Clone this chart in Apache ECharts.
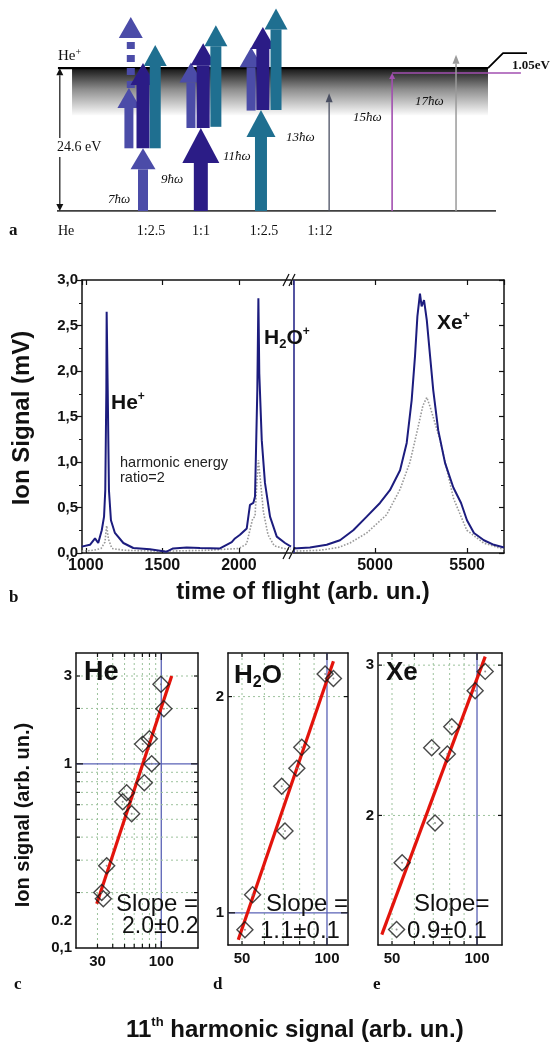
<!DOCTYPE html>
<html>
<head>
<meta charset="utf-8">
<script src="https://cdn.jsdelivr.net/npm/echarts@6/dist/echarts.min.js"></script>
<style>
html, body { margin: 0; background: #ffffff; }
#main { width: 554px; height: 1042px; }
</style>
</head>
<body>
<div id="main"></div>
<script>
// ---------- panel a : He level scheme (x = position in diagram, y = energy in eV) ----------
const arrowPos  = [18.3, 15.3, 15.7, 18.3, 20.9, 30.6, 28.5, 31.1, 33.8, 43.4, 41.3, 43.8, 46.6, 57.9, 71.3, 84.9, 0.6, 0.6];
const arrowFrom = [0, 10.8, 21.2, 10.8, 10.8, 0, 14.3, 14.3, 14.5, 0, 17.3, 17.4, 17.4, 0, 0, 0, 12.4, 9.3];
const arrowTo   = [10.8, 21.2, 33.4, 25.5, 28.6, 14.3, 25.6, 28.9, 32.0, 17.4, 28.2, 31.7, 34.9, 20.3, 23.75, 26.9, 24.6, 0];
const arrowKind = ['slateLow', 'slate', 'dash', 'navy', 'teal', 'navyBig', 'slate', 'navy', 'teal',
                   'tealBig', 'slate', 'navy', 'teal', 'dark', 'purple', 'gray', 'dim', 'dim'];
const ionE = 24.6;
const ionX = [0.2, 91.7];
const groundX = [0, 93.4];
const bandX = [3.2, 91.7];
const bandE = [16.5, 24.6];
const bracketX = [91.7, 94.9, 100];
const bracketE = [24.6, 27.2, 27.2];
const purpleX = [71.3, 98.7];
const purpleE = 23.75;

// ---------- panel b : time of flight spectrum ----------
const tofL  = [973, 1027, 1060, 1081, 1104, 1119, 1127, 1134, 1136, 1143, 1151, 1164, 1190, 1245, 1310, 1419, 1528, 1570, 1659, 1746,
               1876, 1953, 1974, 2007, 2051, 2072, 2094, 2105, 2120, 2127, 2133, 2149, 2170, 2203, 2247, 2301, 2340];
const blueL = [0.07, 0.09, 0.16, 0.11, 0.25, 0.40, 0.69, 1.79, 2.65, 1.79, 0.69, 0.36, 0.22, 0.11, 0.055, 0.04, 0.015, 0.05, 0.06, 0.055,
               0.05, 0.12, 0.16, 0.2, 0.27, 0.53, 0.55, 0.62, 1.79, 2.80, 1.97, 1.24, 0.77, 0.40, 0.18, 0.11, 0.07];
const tofGL  = [973, 1050, 1100, 1125, 1136, 1148, 1170, 1250, 1500, 1800, 2000, 2050, 2090, 2105, 2118, 2127, 2140, 2160, 2190, 2230, 2290, 2340];
const grayL  = [0.02, 0.03, 0.05, 0.12, 0.3, 0.15, 0.05, 0.03, 0.02, 0.03, 0.05, 0.1, 0.38, 0.4, 0.8, 1.02, 0.8, 0.45, 0.2, 0.08, 0.05, 0.04];
const tofR  = [4557, 4647, 4738, 4810, 4882, 4955, 5027, 5081, 5136, 5172, 5199, 5217, 5230, 5244, 5253, 5266, 5281, 5299, 5316, 5343,
               5380, 5425, 5467, 5499, 5537, 5591, 5645, 5700];
const blueR = [0.05, 0.06, 0.09, 0.14, 0.25, 0.40, 0.55, 0.69, 0.91, 1.21, 1.68, 2.16, 2.60, 2.85, 2.71, 2.78, 2.56, 2.16, 1.79, 1.35,
               0.99, 0.72, 0.55, 0.36, 0.22, 0.14, 0.09, 0.06];
const tofGR = [4557, 4700, 4800, 4864, 4955, 5063, 5136, 5190, 5230, 5260, 5281, 5300, 5353, 5426, 5498, 5589, 5700];
const grayR = [0.02, 0.03, 0.06, 0.11, 0.22, 0.42, 0.7, 1.0, 1.35, 1.62, 1.71, 1.6, 1.24, 0.6, 0.25, 0.11, 0.04];
const breakTof = 4560;

// ---------- panels c, d, e : ion signal vs 11th harmonic signal ----------
const heX = [99.4, 105, 70.4, 79.8, 83.4, 72.6, 52.0, 48.3, 57.2, 35.7, 32.5, 33.5];
const heY = [2.71, 1.99, 1.28, 1.37, 1.0, 0.789, 0.696, 0.622, 0.536, 0.280, 0.200, 0.185];
const heFitX = [29.6, 121.7];
const heFitY = [0.174, 3.0];
const h2oX = [98.5, 105.4, 81.4, 78.2, 69.1, 71.0, 54.5, 51.2];
const h2oY = [2.15, 2.12, 1.70, 1.59, 1.50, 1.30, 1.06, 0.947];
const h2oFitX = [48.5, 105.4];
const h2oFitY = [0.917, 2.24];
const xeX = [106.9, 98.5, 81.4, 69.1, 78.5, 71.0, 54.3, 51.9];
const xeY = [2.95, 2.80, 2.54, 2.40, 2.36, 1.96, 1.76, 1.47];
const xeFitX = [46.0, 106.9];
const xeFitY = [1.45, 3.07];

const heGridX = [30, 40, 50, 60, 70, 80, 90];
const heGridY = [0.2, 0.3, 0.4, 0.5, 0.6, 0.7, 0.8, 0.9, 2, 3];
const h2oGridX = [50, 60, 70, 80, 90];
const h2oGridY = [2];
const xeGridX = [50, 60, 70, 80, 90];
const xeGridY = [2, 3];
const refX = [100];
const refY = [1];

const heTickX = [30, 100];
const heTickXLab = ['30', '100'];
const heTickY = [3, 1, 0.1405, 0.1];
const heTickYLab = ['3', '1', '0.2', '0,1'];
const h2oTickX = [50, 100];
const h2oTickXLab = ['50', '100'];
const h2oTickY = [2, 1];
const h2oTickYLab = ['2', '1'];
const xeTickX = [50, 100];
const xeTickXLab = ['50', '100'];
const xeTickY = [3, 2];
const xeTickYLab = ['3', '2'];

const SANS = '"Liberation Sans", Arial, sans-serif';
const SERIF = '"Liberation Serif", "Times New Roman", serif';

const arrowStyle = {
  slateLow: { color: '#4b4ca8', shaft: 10, head: 25, headH: 21 },
  slate:    { color: '#4b4ca8', shaft: 9,  head: 23, headH: 20 },
  dash:     { color: '#4b4ca8', shaft: 8,  head: 24, headH: 21, dash: true },
  navy:     { color: '#2b1c86', shaft: 13, head: 25, headH: 22 },
  teal:     { color: '#1f6f90', shaft: 11, head: 23, headH: 21 },
  navyBig:  { color: '#2b1c86', shaft: 14, head: 37, headH: 35 },
  tealBig:  { color: '#1f6f90', shaft: 12, head: 29, headH: 27 },
  dark:     { color: '#4a4f62', line: 1.3, head: 7, headH: 9 },
  purple:   { color: '#a24fb0', line: 1.6, head: 6, headH: 6 },
  gray:     { color: '#9a9a9a', line: 1.5, head: 7, headH: 9 },
  dim:      { color: '#111111', line: 1.2, head: 7, headH: 7 }
};

function renderArrow(params, api) {
  const i = params.dataIndex;
  const s = arrowStyle[arrowKind[i]];
  const p0 = api.coord([arrowPos[i], arrowFrom[i]]);
  const p1 = api.coord([arrowPos[i], arrowTo[i]]);
  const x = p0[0];
  const dir = p1[1] < p0[1] ? -1 : 1;
  const yb = p1[1] - dir * s.headH;
  const head = { type: 'polygon', shape: { points: [[x - s.head / 2, yb], [x, p1[1]], [x + s.head / 2, yb]] }, style: { fill: s.color } };
  let shaft;
  if (s.line) {
    shaft = { type: 'line', shape: { x1: x, y1: p0[1], x2: x, y2: yb }, style: { stroke: s.color, lineWidth: s.line } };
  } else if (s.dash) {
    shaft = { type: 'line', shape: { x1: x, y1: p0[1], x2: x, y2: yb }, style: { stroke: s.color, lineWidth: s.shaft, lineDash: [7, 6] } };
  } else {
    shaft = { type: 'rect', shape: { x: x - s.shaft / 2, y: Math.min(p0[1], yb), width: s.shaft, height: Math.abs(yb - p0[1]) }, style: { fill: s.color } };
  }
  return { type: 'group', children: [shaft, head] };
}

function renderBand(params, api) {
  const p0 = api.coord([bandX[0], bandE[1]]);
  const p1 = api.coord([bandX[1], bandE[0]]);
  return {
    type: 'rect',
    shape: { x: p0[0], y: p0[1], width: p1[0] - p0[0], height: p1[1] - p0[1] },
    style: { fill: new echarts.graphic.LinearGradient(0, 0, 0, 1, [
      { offset: 0, color: '#151515' }, { offset: 0.45, color: '#8d8d8d' }, { offset: 1, color: '#fbfbfb' }]) }
  };
}

function levelLine(xs, es, color, width) {
  return {
    type: 'line', xAxisIndex: 0, yAxisIndex: 0, z: 2, symbol: 'none', silent: true,
    data: xs.map((x, i) => [x, es[i]]),
    lineStyle: { color: color, width: width }
  };
}

// dotted grid lines, reference lines and inner ticks of one log-log panel
function guideSeries(xi, yi, gx, bx, gy, by, xmin, ymin) {
  const vals = [], kinds = [];
  gx.forEach(v => { vals.push([v, ymin]); kinds.push('gx'); });
  bx.forEach(v => { vals.push([v, ymin]); kinds.push('bx'); });
  gy.forEach(v => { vals.push([xmin, v]); kinds.push('gy'); });
  by.forEach(v => { vals.push([xmin, v]); kinds.push('by'); });
  return {
    type: 'custom', xAxisIndex: xi, yAxisIndex: yi, z: 1, silent: true, data: vals,
    renderItem(params, api) {
      const cs = params.coordSys;
      const k = kinds[params.dataIndex];
      const p = api.coord([api.value(0), api.value(1)]);
      const blue = k[0] === 'b';
      const st = blue ? { stroke: '#5a62b6', lineWidth: 1.3 } : { stroke: '#9cc29c', lineWidth: 1, lineDash: [2, 3] };
      const tk = { stroke: '#111', lineWidth: 1.2 };
      const L = blue ? 7 : 4;
      if (k[1] === 'x') {
        const x = p[0];
        return { type: 'group', children: [
          { type: 'line', shape: { x1: x, y1: cs.y, x2: x, y2: cs.y + cs.height }, style: st },
          { type: 'line', shape: { x1: x, y1: cs.y, x2: x, y2: cs.y + L }, style: tk },
          { type: 'line', shape: { x1: x, y1: cs.y + cs.height - L, x2: x, y2: cs.y + cs.height }, style: tk }] };
      }
      const y = p[1];
      return { type: 'group', children: [
        { type: 'line', shape: { x1: cs.x, y1: y, x2: cs.x + cs.width, y2: y }, style: st },
        { type: 'line', shape: { x1: cs.x, y1: y, x2: cs.x + L, y2: y }, style: tk },
        { type: 'line', shape: { x1: cs.x + cs.width - L, y1: y, x2: cs.x + cs.width, y2: y }, style: tk }] };
    }
  };
}

// tick labels of one log-log panel
function labelSeries(xi, yi, xt, xl, yt, yl, xmin, ymin) {
  const vals = xt.map(v => [v, ymin]).concat(yt.map(v => [xmin, v]));
  const texts = xl.concat(yl);
  return {
    type: 'custom', xAxisIndex: xi, yAxisIndex: yi, z: 5, silent: true, data: vals,
    renderItem(params, api) {
      const cs = params.coordSys;
      const i = params.dataIndex;
      const p = api.coord([api.value(0), api.value(1)]);
      const isX = i < xt.length;
      return {
        type: 'text',
        x: isX ? p[0] : cs.x - 4,
        y: isX ? cs.y + cs.height + 6 : p[1],
        style: { text: texts[i], fill: '#111', fontSize: 15, fontWeight: 'bold', fontFamily: SANS,
                 align: isX ? 'center' : 'right', verticalAlign: isX ? 'top' : 'middle' }
      };
    }
  };
}

function pointSeries(xi, yi, xs, ys) {
  return [{
    type: 'scatter', xAxisIndex: xi, yAxisIndex: yi, z: 4, symbol: 'diamond', symbolSize: 16, silent: true,
    data: xs.map((x, i) => [x, ys[i]]),
    itemStyle: { color: 'rgba(255,255,255,0)', borderColor: '#1a1a1a', borderWidth: 1.4 }
  }, {
    type: 'scatter', xAxisIndex: xi, yAxisIndex: yi, z: 4, symbol: 'circle', symbolSize: 2, silent: true,
    data: xs.map((x, i) => [x, ys[i]]),
    itemStyle: { color: '#777' }
  }];
}

function fitSeries(xi, yi, fx, fy) {
  return {
    type: 'line', xAxisIndex: xi, yAxisIndex: yi, z: 3, symbol: 'none', silent: true,
    data: fx.map((x, i) => [x, fy[i]]),
    lineStyle: { color: '#e3140c', width: 3.2 }
  };
}

const frameLine = { show: true, onZero: false, lineStyle: { color: '#111', width: 1.5 } };
const off = { show: false };

function logAxis(grid, pos, min, max) {
  return { type: 'log', gridIndex: grid, position: pos, min: min, max: max, axisLine: frameLine,
           axisTick: off, axisLabel: off, splitLine: off, minorTick: off, minorSplitLine: off };
}

function tofAxis(grid, pos, min, max, split, labels) {
  return {
    type: 'value', gridIndex: grid, position: pos, min: min, max: max, splitNumber: split,
    axisLine: frameLine, splitLine: off,
    axisTick: { show: true, inside: true, length: 5, lineStyle: { color: '#111', width: 1.2 } },
    axisLabel: labels ? { show: true, color: '#111', fontSize: 16, fontWeight: 'bold', fontFamily: SANS, margin: 5,
                          showMinLabel: false, showMaxLabel: false,
                          formatter: v => (v % 500 === 0 ? String(v) : '') } : off
  };
}

function sigAxis(grid, pos, labels) {
  return {
    type: 'value', gridIndex: grid, position: pos, min: 0, max: 3, interval: 0.5,
    axisLine: frameLine, splitLine: off,
    axisTick: { show: true, inside: !labels, length: 5, lineStyle: { color: '#111', width: 1.2 } },
    minorTick: { show: true, splitNumber: 2, length: 3, lineStyle: { color: '#111', width: 1 } },
    axisLabel: labels ? { show: true, color: '#111', fontSize: 15, fontWeight: 'bold', fontFamily: SANS, margin: 4,
                          formatter: v => v.toFixed(1).replace('.', ',') } : off
  };
}

function txt(x, y, text, size, extra) {
  return {
    type: 'text', x: x, y: y, z: 20, silent: true,
    style: Object.assign({ text: text, fill: '#111', fontSize: size, fontFamily: SANS, fontWeight: 'bold',
                           align: 'left', verticalAlign: 'middle' }, extra || {})
  };
}

function richTxt(x, y, text, size) {
  return {
    type: 'text', x: x, y: y, z: 20, silent: true,
    style: {
      text: text, align: 'left', verticalAlign: 'middle',
      rich: {
        m: { fontSize: size, fontWeight: 'bold', fontFamily: SANS, fill: '#111', lineHeight: size + 4 },
        sup: { fontSize: Math.round(size * 0.55), fontWeight: 'bold', fontFamily: SANS, fill: '#111', verticalAlign: 'top' },
        sub: { fontSize: Math.round(size * 0.6), fontWeight: 'bold', fontFamily: SANS, fill: '#111', verticalAlign: 'bottom' }
      }
    }
  };
}

function richTxtSerif(x, y, base, sup) {
  return {
    type: 'text', x: x, y: y, z: 20, silent: true,
    style: {
      text: '{m|' + base + '}{s|' + sup + '}', align: 'left', verticalAlign: 'middle',
      rich: {
        m: { fontSize: 15, fontFamily: SERIF, fill: '#111', lineHeight: 18 },
        s: { fontSize: 10, fontFamily: SERIF, fill: '#111', verticalAlign: 'top' }
      }
    }
  };
}

function serif(x, y, text, size, extra) {
  return txt(x, y, text, size, Object.assign({ fontFamily: SERIF, fontWeight: 'normal' }, extra || {}));
}

const yTitleB = txt(22, 418, 'Ion Signal (mV)', 24, { align: 'center' });
yTitleB.rotation = Math.PI / 2;
const yTitleC = txt(23, 815, 'Ion signal (arb. un.)', 20, { align: 'center' });
yTitleC.rotation = Math.PI / 2;

const graphics = [
  // panel a
  richTxtSerif(58, 56, 'He', '+'),
  serif(57, 147, '24.6 eV', 14, { backgroundColor: '#fff', padding: [2, 0, 2, 0] }),
  serif(512, 66, '1.05eV', 13, { fontWeight: 'bold' }),
  serif(108, 200, '7ħω', 13, { fontStyle: 'italic' }),
  serif(161, 180, '9ħω', 13, { fontStyle: 'italic' }),
  serif(223, 157, '11ħω', 13, { fontStyle: 'italic' }),
  serif(286, 138, '13ħω', 13, { fontStyle: 'italic' }),
  serif(353, 118, '15ħω', 13, { fontStyle: 'italic' }),
  serif(415, 102, '17ħω', 13, { fontStyle: 'italic' }),
  serif(9, 231, 'a', 17, { fontWeight: 'bold' }),
  serif(58, 231, 'He', 14),
  serif(151, 231, '1:2.5', 14, { align: 'center' }),
  serif(201, 231, '1:1', 14, { align: 'center' }),
  serif(264, 231, '1:2.5', 14, { align: 'center' }),
  serif(320, 231, '1:12', 14, { align: 'center' }),
  // panel b
  yTitleB,
  txt(303, 592, 'time of flight (arb. un.)', 24, { align: 'center' }),
  serif(9, 598, 'b', 17, { fontWeight: 'bold' }),
  richTxt(111, 403, '{m|He}{sup|+}', 21),
  txt(120, 463, 'harmonic energy', 14.5, { fontWeight: 'normal', fill: '#222' }),
  txt(120, 478, 'ratio=2', 14.5, { fontWeight: 'normal', fill: '#222' }),
  richTxt(264, 338, '{m|H}{sub|2}{m|O}{sup|+}', 21),
  richTxt(437, 323, '{m|Xe}{sup|+}', 21),
  // panels c, d, e
  yTitleC,
  txt(84, 673, 'He', 27),
  richTxt(234, 676, '{m|H}{sub|2}{m|O}', 26),
  txt(386, 673, 'Xe', 26),
  txt(116, 904, 'Slope =', 24, { fontWeight: 'normal' }),
  txt(122, 927, '2.0±0.2', 23, { fontWeight: 'normal' }),
  txt(266, 904, 'Slope =', 24, { fontWeight: 'normal' }),
  txt(260, 931, '1.1±0.1', 24, { fontWeight: 'normal' }),
  txt(414, 904, 'Slope=', 24, { fontWeight: 'normal' }),
  txt(407, 931, '0.9±0.1', 24, { fontWeight: 'normal' }),
  serif(14, 985, 'c', 17, { fontWeight: 'bold' }),
  serif(213, 985, 'd', 17, { fontWeight: 'bold' }),
  serif(373, 985, 'e', 17, { fontWeight: 'bold' }),
  richTxt(126, 1030, '{m|11}{sup|th}{m| harmonic signal (arb. un.)}', 24),
  // axis break marks of panel b
  { type: 'polyline', z: 20, silent: true, shape: { points: [[283, 559], [289, 547]] }, style: { stroke: '#111', lineWidth: 1.3 } },
  { type: 'polyline', z: 20, silent: true, shape: { points: [[289, 559], [295, 547]] }, style: { stroke: '#111', lineWidth: 1.3 } },
  { type: 'polyline', z: 20, silent: true, shape: { points: [[283, 286], [289, 274]] }, style: { stroke: '#111', lineWidth: 1.3 } },
  { type: 'polyline', z: 20, silent: true, shape: { points: [[289, 286], [295, 274]] }, style: { stroke: '#111', lineWidth: 1.3 } }
];

const option = {
  animation: false,
  backgroundColor: '#ffffff',
  grid: [
    { left: 57, top: 2, width: 470, height: 209 },
    { left: 82, top: 280, width: 209, height: 273 },
    { left: 293, top: 280, width: 211, height: 273 },
    { left: 76, top: 653, width: 122, height: 295 },
    { left: 228, top: 653, width: 120, height: 292 },
    { left: 378, top: 653, width: 124, height: 292 }
  ],
  xAxis: [
    { type: 'value', gridIndex: 0, min: 0, max: 100, show: false },
    tofAxis(1, 'bottom', 975, 2340, 3, true),
    tofAxis(1, 'top', 975, 2340, 3, false),
    tofAxis(2, 'bottom', 4555, 5700, 2, true),
    tofAxis(2, 'top', 4555, 5700, 2, false),
    logAxis(3, 'bottom', 20, 200),
    logAxis(3, 'top', 20, 200),
    logAxis(4, 'bottom', 44.6, 118.7),
    logAxis(4, 'top', 44.6, 118.7),
    logAxis(5, 'bottom', 44.6, 122.6),
    logAxis(5, 'top', 44.6, 122.6)
  ],
  yAxis: [
    { type: 'value', gridIndex: 0, min: 0, max: 36, show: false },
    sigAxis(1, 'left', true),
    sigAxis(2, 'right', false),
    logAxis(3, 'left', 0.1, 4),
    logAxis(3, 'right', 0.1, 4),
    logAxis(4, 'left', 0.902, 2.30),
    logAxis(4, 'right', 0.902, 2.30),
    logAxis(5, 'left', 1.41, 3.1),
    logAxis(5, 'right', 1.41, 3.1)
  ],
  graphic: { elements: graphics },
  series: [
    // panel a
    { type: 'custom', xAxisIndex: 0, yAxisIndex: 0, z: 1, silent: true, data: [[bandX[0], bandE[1]]], renderItem: renderBand },
    levelLine(ionX, [ionE, ionE], '#000', 2.2),
    levelLine(groundX, [0, 0], '#000', 1.5),
    levelLine(bracketX, bracketE, '#000', 1.8),
    levelLine(purpleX, [purpleE, purpleE], '#a24fb0', 1.5),
    { type: 'custom', xAxisIndex: 0, yAxisIndex: 0, z: 3, silent: true,
      data: arrowPos.map((x, i) => [x, arrowTo[i]]), renderItem: renderArrow },
    // panel b
    { type: 'line', xAxisIndex: 1, yAxisIndex: 1, symbol: 'none', silent: true, z: 2,
      data: tofGL.map((t, i) => [t, grayL[i]]), lineStyle: { color: '#9a9a9a', width: 1.6, type: 'dotted' } },
    { type: 'line', xAxisIndex: 1, yAxisIndex: 1, symbol: 'none', silent: true, z: 3,
      data: tofL.map((t, i) => [t, blueL[i]]), lineStyle: { color: '#1c1c7e', width: 2 } },
    { type: 'line', xAxisIndex: 3, yAxisIndex: 2, symbol: 'none', silent: true, z: 2,
      data: tofGR.map((t, i) => [t, grayR[i]]), lineStyle: { color: '#9a9a9a', width: 1.6, type: 'dotted' } },
    { type: 'line', xAxisIndex: 3, yAxisIndex: 2, symbol: 'none', silent: true, z: 3,
      data: tofR.map((t, i) => [t, blueR[i]]), lineStyle: { color: '#1c1c7e', width: 2 },
      markLine: { symbol: 'none', silent: true, label: { show: false },
                  lineStyle: { color: '#2a2a8a', width: 1.6, type: 'solid' }, data: [{ xAxis: breakTof }] } },
    // panel c
    guideSeries(5, 3, heGridX, refX, heGridY, refY, 20, 0.1),
    fitSeries(5, 3, heFitX, heFitY),
    ...pointSeries(5, 3, heX, heY),
    labelSeries(5, 3, heTickX, heTickXLab, heTickY, heTickYLab, 20, 0.1),
    // panel d
    guideSeries(7, 5, h2oGridX, refX, h2oGridY, refY, 44.6, 0.902),
    fitSeries(7, 5, h2oFitX, h2oFitY),
    ...pointSeries(7, 5, h2oX, h2oY),
    labelSeries(7, 5, h2oTickX, h2oTickXLab, h2oTickY, h2oTickYLab, 44.6, 0.902),
    // panel e
    guideSeries(9, 7, xeGridX, refX, xeGridY, [], 44.6, 1.41),
    fitSeries(9, 7, xeFitX, xeFitY),
    ...pointSeries(9, 7, xeX, xeY),
    labelSeries(9, 7, xeTickX, xeTickXLab, xeTickY, xeTickYLab, 44.6, 1.41)
  ]
};

const chart = echarts.init(document.getElementById('main'));
chart.setOption(option);
</script>
</body>
</html>
